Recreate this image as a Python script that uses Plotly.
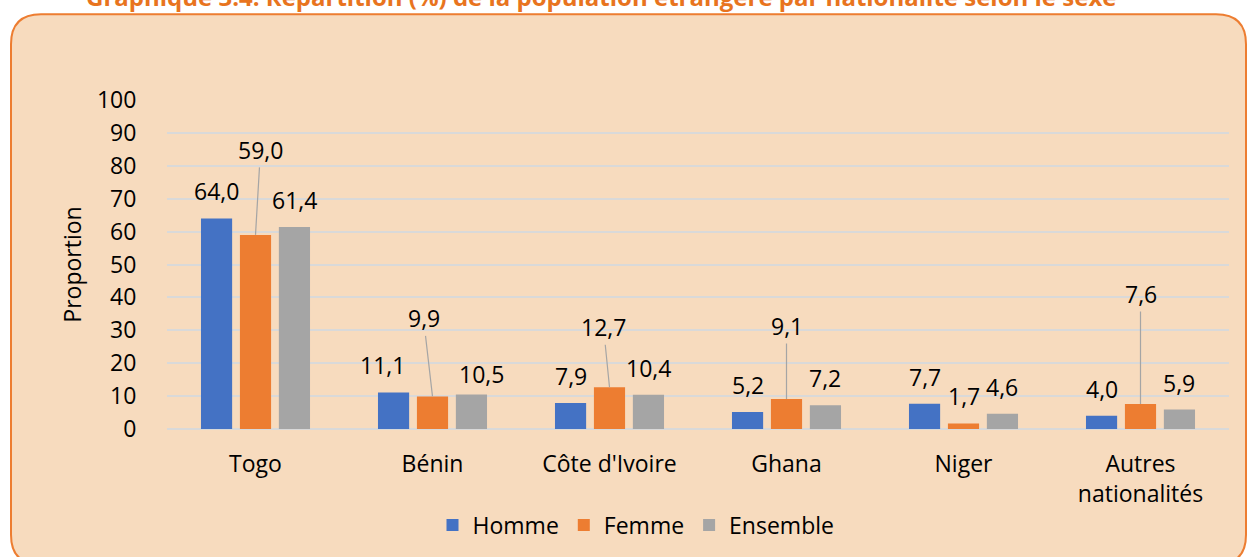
import plotly.graph_objects as go

categories = ["Togo", "Bénin", "Côte d'Ivoire", "Ghana", "Niger", "Autres<br>nationalités"]
homme = [64.0, 11.1, 7.9, 5.2, 7.7, 4.0]
femme = [59.0, 9.9, 12.7, 9.1, 1.7, 7.6]
ensemble = [61.4, 10.5, 10.4, 7.2, 4.6, 5.9]
y_ticks = [0, 10, 20, 30, 40, 50, 60, 70, 80, 90, 100]

# label placement (pixels), kept apart from the data
homme_dx = [0, -11, 0, 0, 0, 0]
ensemble_dx = [0, 10, 0, 0, 0, 0]
ensemble_dy = [27, 20, 27, 27, 27, 27]
femme_ax = [5, -9, -6, 0, 0, 0]
femme_ay = [-85, -78, -60, -73, -27, -110]
femme_arrow = [True, True, True, True, False, True]

BLUE, ORANGE, GRAY = "#4472C4", "#ED7D31", "#A5A5A5"
FONT = "Open Sans"
W, H = 1248, 557
L, R, T, B = 167, 19, 100, 127
PW, PH = W - L - R, H - T - B


def fmt(v):
    return f"{v:.1f}".replace(".", ",")


def px(x):
    return (x - L) / PW


def py(y):
    return (H - B - y) / PH


fig = go.Figure()
for name, vals, col in [("Homme", homme, BLUE), ("Femme", femme, ORANGE), ("Ensemble", ensemble, GRAY)]:
    fig.add_trace(go.Bar(x=categories, y=vals, name=name, marker=dict(color=col, line=dict(width=0))))

ann = []
slot = PW / len(categories) * (1 - 0.34) / 3
for i, c in enumerate(categories):
    ann.append(dict(x=c, y=homme[i], xref="x", yref="y", text=fmt(homme[i]), showarrow=False,
                    xshift=-slot + homme_dx[i], yshift=27, yanchor="middle",
                    font=dict(family=FONT, size=23, color="black")))
    ann.append(dict(x=c, y=ensemble[i], xref="x", yref="y", text=fmt(ensemble[i]), showarrow=False,
                    xshift=slot + ensemble_dx[i], yshift=ensemble_dy[i], yanchor="middle",
                    font=dict(family=FONT, size=23, color="black")))
    if femme_arrow[i]:
        ann.append(dict(x=c, y=femme[i], xref="x", yref="y", text=fmt(femme[i]), showarrow=True,
                        arrowhead=0, arrowwidth=1.2, arrowcolor="#A5A5A5", standoff=0,
                        ax=femme_ax[i], ay=femme_ay[i],
                        font=dict(family=FONT, size=23, color="black")))
    else:
        ann.append(dict(x=c, y=femme[i], xref="x", yref="y", text=fmt(femme[i]), showarrow=False,
                        xshift=femme_ax[i], yshift=-femme_ay[i], yanchor="middle",
                        font=dict(family=FONT, size=23, color="black")))

ann.append(dict(x=px(601), y=py(-4), xref="paper", yref="paper", showarrow=False,
                text="<b>Graphique 3.4: Répartition (%) de la population étrangère par nationalité selon le sexe</b>",
                font=dict(family=FONT, size=24, color="#E8741E"), xanchor="center", yanchor="middle"))

# rounded frame
x0, y0, x1, y1, r = 11, 14, 1246, 566, 30
path = (f"M {px(x0 + r)} {py(y0)} L {px(x1 - r)} {py(y0)} Q {px(x1)} {py(y0)} {px(x1)} {py(y0 + r)} "
        f"L {px(x1)} {py(y1 - r)} Q {px(x1)} {py(y1)} {px(x1 - r)} {py(y1)} "
        f"L {px(x0 + r)} {py(y1)} Q {px(x0)} {py(y1)} {px(x0)} {py(y1 - r)} "
        f"L {px(x0)} {py(y0 + r)} Q {px(x0)} {py(y0)} {px(x0 + r)} {py(y0)} Z")

fig.update_layout(
    width=W, height=H,
    margin=dict(l=L, r=R, t=T, b=B),
    paper_bgcolor="white",
    plot_bgcolor="rgba(0,0,0,0)",
    barmode="group", bargap=0.34, bargroupgap=0.2,
    font=dict(family=FONT, size=23, color="black"),
    shapes=[dict(type="path", path=path, xref="paper", yref="paper", layer="below",
                 fillcolor="#F7DBBE", line=dict(color="#ED7D31", width=2))],
    annotations=ann,
    showlegend=True,
    legend=dict(orientation="h", x=px(636), xanchor="center", y=py(525), yanchor="middle",
                font=dict(family=FONT, size=23), bgcolor="rgba(0,0,0,0)", itemwidth=30),
    xaxis=dict(showgrid=False, showline=False, zeroline=False, ticks="outside", ticklen=14,
               tickcolor="rgba(0,0,0,0)", tickfont=dict(family=FONT, size=23)),
    yaxis=dict(range=[0, 100], tickvals=y_ticks, showgrid=True, gridcolor="#D9D9D9", gridwidth=1.5,
               zeroline=True, zerolinecolor="#D9D9D9", zerolinewidth=1.5, showline=False,
               ticks="outside", ticklen=25, tickcolor="rgba(0,0,0,0)",
               tickfont=dict(family=FONT, size=23),
               title=dict(text="Proportion", standoff=8, font=dict(family=FONT, size=23))),
)

fig.write_html("out.html", config={"displayModeBar": False},
               post_script="document.body.style.margin='0';document.body.style.overflow='hidden';")
